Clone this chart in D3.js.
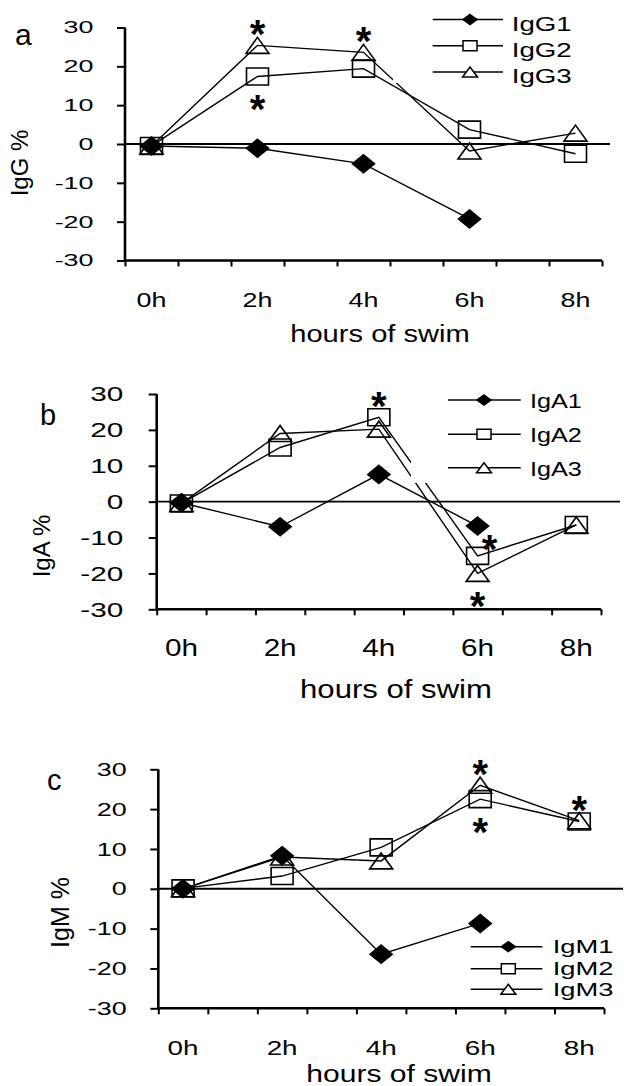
<!DOCTYPE html>
<html><head><meta charset="utf-8">
<script src="https://cdn.jsdelivr.net/npm/d3@7"></script>
<style>body{margin:0;background:#fff} svg{display:block;font-family:"Liberation Sans",Arial,Helvetica,sans-serif}</style>
</head><body><svg id="chart" width="624" height="1086"></svg>
<script>
// ---------- data ----------
const hours = [0, 1, 2, 3, 4, 5, 6, 7, 8];
const sampledHours = [0, 2, 4, 6, 8];
const yTicks = [-30, -20, -10, 0, 10, 20, 30];
const xAxisTitle = "hours of swim";

const igGNames = ["IgG1", "IgG2", "IgG3"];
const igG1 = [-0.5, -1.1, -5.1, -19.3, null];
const igG2 = [-0.5, 17.4, 19.4, 3.7, -2.5];
const igG3 = [-0.5, 25.4, 23.6, -1.8, 2.8];
const igGStars = [["IgG3", 2, "above"], ["IgG2", 2, "below"], ["IgG3", 4, "above"]];

const igANames = ["IgA1", "IgA2", "IgA3"];
const igA1 = [-0.3, -7.0, 7.6, -6.8, null];
const igA2 = [-0.5, 15.1, 23.5, -15.1, -6.5];
const igA3 = [-0.5, 19.0, 20.2, -20.0, -6.5];
const igAStars = [["IgA2", 4, "above"], ["IgA2", 6, "right"], ["IgA3", 6, "below"]];

const igMNames = ["IgM1", "IgM2", "IgM3"];
const igM1 = [0.0, 8.3, -16.4, -8.7, null];
const igM2 = [0.1, 3.2, 10.4, 22.5, 16.9];
const igM3 = [0.0, 8.0, 7.0, 26.0, 17.1];
const igMStars = [["IgM3", 6, "above"], ["IgM2", 6, "below"], ["IgM3", 8, "above"]];

// ---------- layout (positions / styles) ----------
const panels = [
  { label: "a", yTitle: "IgG %", names: igGNames, series: [igG1, igG2, igG3], stars: igGStars,
    left: 125, right: 602, top: 27.5, bottom: 260.5, zeroEnd: 610,
    labelX: 15, labelY: 45, labelFs: 30,
    yTitleX: 28, yTitleY: 163, yTitleFs: 24,
    yTickRight: 93.5, yTickFs: 16.3, yTickSx: 1.65,
    xTickBase: 306.7, xTickFs: 21, xTickSx: 1.28,
    titleCx: 380, titleBase: 341.7, titleFs: 23.3, titleSx: 1.25,
    legX0: 432.7, legX1: 503, legMX: 470, legRows: [19.5, 45.8, 72], legTX: 511.7, legFs: 21, legSx: 1.32, legDy: 11,
    box: [393, 0, 231, 83] },
  { label: "b", yTitle: "IgA %", names: igANames, series: [igA1, igA2, igA3], stars: igAStars,
    left: 156.7, right: 601, top: 394, bottom: 609.3, zeroEnd: 620,
    labelX: 40, labelY: 425, labelFs: 29,
    yTitleX: 50, yTitleY: 546, yTitleFs: 24,
    yTickRight: 123.3, yTickFs: 20.5, yTickSx: 1.45,
    xTickBase: 656, xTickFs: 23, xTickSx: 1.29,
    titleCx: 396, titleBase: 698, titleFs: 25.6, titleSx: 1.216,
    legX0: 448, legX1: 520.7, legMX: 484, legRows: [400, 434.3, 467.7], legTX: 530, legFs: 20.5, legSx: 1.23, legDy: 8,
    box: [411, 380, 213, 103] },
  { label: "c", yTitle: "IgM %", names: igMNames, series: [igM1, igM2, igM3], stars: igMStars,
    left: 158.3, right: 604, top: 769.3, bottom: 1008.3, zeroEnd: 623,
    labelX: 47, labelY: 790, labelFs: 29,
    yTitleX: 68.5, yTitleY: 912.5, yTitleFs: 25,
    yTickRight: 126.7, yTickFs: 18.6, yTickSx: 1.45,
    xTickBase: 1055, xTickFs: 20, xTickSx: 1.39,
    titleCx: 399, titleBase: 1082, titleFs: 23.5, titleSx: 1.28,
    legX0: 470.7, legX1: 542.3, legMX: 508.3, legRows: [946.7, 968.7, 989.3], legTX: 552.7, legFs: 19, legSx: 1.44, legDy: 6.6,
    box: null }
];

const svg = d3.select("#chart");

function stretchText(g, x, y, txt, fs, sx, anchor) {
  return g.append("text")
    .attr("transform", `translate(${x},${y}) scale(${sx},1)`)
    .attr("text-anchor", anchor)
    .attr("font-size", fs)
    .attr("fill", "#000")
    .text(txt);
}

function markerPath(kind, w, h) {
  const p = d3.path();
  if (kind === 0) { p.moveTo(0, -h); p.lineTo(w, 0); p.lineTo(0, h); p.lineTo(-w, 0); p.closePath(); }
  else if (kind === 1) { p.rect(-w, -h, 2 * w, 2 * h); }
  else { p.moveTo(0, -h); p.lineTo(w, h); p.lineTo(-w, h); p.closePath(); }
  return p.toString();
}
const markerFill = ["#000", "none", "none"];
const bigSize = [[11, 9], [11, 8.5], [11.5, 8]];
const smallSize = [[7, 5], [7, 5], [7.5, 5]];

panels.forEach(P => {
  const g = svg.append("g");
  const x = d3.scaleLinear().domain([hours[0] - 0.5, hours[hours.length - 1] + 0.5]).range([P.left, P.right]);
  const y = d3.scaleLinear().domain([d3.min(yTicks), d3.max(yTicks)]).range([P.bottom, P.top]);

  // zero line
  g.append("line").attr("x1", P.left).attr("x2", P.zeroEnd).attr("y1", y(0)).attr("y2", y(0))
    .attr("stroke", "#000").attr("stroke-width", 1.9);

  // series
  P.series.forEach((vals, si) => {
    const pts = sampledHours.map((h, i) => ({ h, v: vals[i] }));
    const line = d3.line().defined(d => d.v != null).x(d => x(d.h)).y(d => y(d.v));
    g.append("path").attr("d", line(pts)).attr("fill", "none").attr("stroke", "#000").attr("stroke-width", 1.4);
  });
  P.series.forEach((vals, si) => {
    const pts = sampledHours.map((h, i) => ({ h, v: vals[i] })).filter(d => d.v != null);
    g.selectAll(null).data(pts).enter().append("path")
      .attr("transform", d => `translate(${x(d.h)},${y(d.v)})`)
      .attr("d", markerPath(si, bigSize[si][0], bigSize[si][1]))
      .attr("fill", markerFill[si]).attr("stroke", "#000").attr("stroke-width", 1.6);
  });

  // asterisks
  P.stars.forEach(([name, h, side]) => {
    const si = P.names.indexOf(name);
    const v = P.series[si][sampledHours.indexOf(h)];
    let cx = x(h), cy = y(v);
    if (side === "above") cy -= 20;
    else if (side === "below") cy += 24;
    else { cx += 12; cy -= 16; }
    g.append("text").attr("x", cx).attr("y", cy + 23).attr("text-anchor", "middle")
      .attr("font-size", 40).attr("font-weight", "bold").text("*");
  });

  // legend background box (covers lines as in original)
  if (P.box) {
    g.append("rect").attr("x", P.box[0]).attr("y", P.box[1]).attr("width", P.box[2]).attr("height", P.box[3]).attr("fill", "#fff");
  }

  // axes
  const yAxis = d3.axisLeft(y).tickValues(yTicks).tickSize(8).tickFormat("");
  const ya = g.append("g").attr("transform", `translate(${P.left},0)`).call(yAxis);
  const xTickVals = hours.map(h => h - 0.5).concat([hours[hours.length - 1] + 0.5]);
  const xAxis = d3.axisBottom(x).tickValues(xTickVals).tickSize(6).tickFormat("");
  const xa = g.append("g").attr("transform", `translate(0,${P.bottom})`).call(xAxis);
  [ya, xa].forEach(a => {
    a.select(".domain").attr("stroke", "#000").attr("stroke-width", 2.6)
      .attr("d", a === ya ? `M0,${P.top}V${P.bottom}` : `M${P.left},0H${P.right}`);
    a.selectAll(".tick line").attr("stroke", "#000").attr("stroke-width", 2);
  });

  // tick labels
  yTicks.forEach(t => stretchText(g, P.yTickRight, y(t) + 0.358 * P.yTickFs, String(t), P.yTickFs, P.yTickSx, "end"));
  sampledHours.forEach(h => stretchText(g, x(h), P.xTickBase, h + "h", P.xTickFs, P.xTickSx, "middle"));

  // titles
  stretchText(g, P.titleCx, P.titleBase, xAxisTitle, P.titleFs, P.titleSx, "middle");
  g.append("text").attr("transform", `translate(${P.yTitleX},${P.yTitleY}) rotate(-90)`)
    .attr("text-anchor", "middle").attr("font-size", P.yTitleFs).text(P.yTitle);
  g.append("text").attr("x", P.labelX).attr("y", P.labelY).attr("font-size", P.labelFs).text(P.label);

  // legend
  P.names.forEach((name, si) => {
    const ry = P.legRows[si];
    g.append("line").attr("x1", P.legX0).attr("x2", P.legX1).attr("y1", ry).attr("y2", ry)
      .attr("stroke", "#000").attr("stroke-width", 1.4);
    g.append("path").attr("transform", `translate(${P.legMX},${ry})`)
      .attr("d", markerPath(si, smallSize[si][0], smallSize[si][1]))
      .attr("fill", si === 0 ? "#000" : "#fff").attr("stroke", "#000").attr("stroke-width", 1.5);
    stretchText(g, P.legTX, ry + P.legDy, name, P.legFs, P.legSx, "start");
  });
});
</script>
</body></html>
